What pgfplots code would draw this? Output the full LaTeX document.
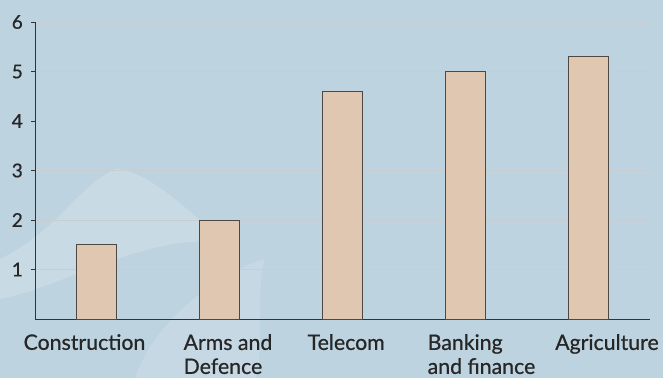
\documentclass[border=0pt]{standalone}
\usepackage{pgfplots}
\pgfplotsset{compat=1.18}
\usepackage{fontspec}
\setmainfont{Lato}
\newfontfamily\labfont{Lato}[FakeBold=0.6]
\usetikzlibrary{calc,backgrounds}
\definecolor{bgc}{HTML}{BDD3DF}
\definecolor{swirl}{HTML}{D6E4EC}
\definecolor{barfill}{HTML}{DFC7B2}
\definecolor{baredge}{HTML}{4F4842}
\definecolor{gridc}{HTML}{C9CDD0}
\definecolor{axc}{HTML}{333333}
\begin{document}
\begin{tikzpicture}
\begin{axis}[name=ax,
  scale only axis, width=615pt, height=297pt,
  xmin=-0.5, xmax=4.5, ymin=0, ymax=6,
  axis x line=bottom, axis y line=left,
  axis line style={axc, line width=0.8pt, -},
  ytick={1,2,3,4,5,6},
  ymajorgrids, grid style={gridc, line width=0.6pt},
  xtick={-0.098,1.069,2.03,3.13,4.15},
  xticklabels={Construction,{Arms and\\Defence},Telecom,{Banking\\and finance},Agriculture},
  x tick style={draw=none},
  extra x ticks={-0.5,0.5,1.5,2.5,3.5,4.5},
  extra x tick labels={},
  extra x tick style={tick style={draw=axc, line width=0.8pt}, major tick length=4pt, tick align=outside, grid=none},
  y tick style={draw=axc, line width=0.8pt},
  major tick length=4pt, tick align=outside,
  xticklabel style={font=\labfont\fontsize{21.3}{24}\selectfont, text=black!85, align=left, anchor=north, inner sep=0pt, yshift=-11pt},
  yticklabel style={font=\labfont\fontsize{19}{22}\selectfont, text=black!85, inner sep=0pt, xshift=-8pt},
  /pgf/number format/assume math mode=true,
  clip=false,
]
\addplot[ybar, bar width=40pt, fill=barfill, draw=baredge, line width=0.8pt] coordinates {(0,1.5) (1,2.0) (2,4.6) (3,5.0) (4,5.3)};
\end{axis}
\begin{scope}[on background layer]
\fill[bgc] ($(ax.south west)+(-35pt,-59pt)$) rectangle ($(ax.south west)+(628pt,319pt)$);
\begin{scope}
\clip ($(ax.south west)+(-35pt,-59pt)$) rectangle ($(ax.south west)+(628pt,319pt)$);
\fill[swirl, opacity=0.45] ($(ax.south west)+(-35pt,60pt)$) .. controls +(60pt,30pt) and +(-40pt,-20pt) .. ($(ax.south west)+(80pt,150pt)$) .. controls +(40pt,0pt) and +(-20pt,10pt) .. ($(ax.south west)+(200pt,70pt)$) .. controls +(-60pt,30pt) and +(60pt,10pt) .. ($(ax.south west)+(-35pt,20pt)$) -- cycle;
\fill[swirl, opacity=0.35] ($(ax.south west)+(100pt,-59pt)$) .. controls +(20pt,60pt) and +(-40pt,-10pt) .. ($(ax.south west)+(230pt,60pt)$) .. controls +(-10pt,-30pt) and +(10pt,20pt) .. ($(ax.south west)+(220pt,-59pt)$) -- cycle;
\end{scope}
\end{scope}
\pgfresetboundingbox
\useasboundingbox ($(ax.south west)+(-35pt,-59pt)$) rectangle ($(ax.south west)+(628pt,319pt)$);
\end{tikzpicture}
\end{document}
